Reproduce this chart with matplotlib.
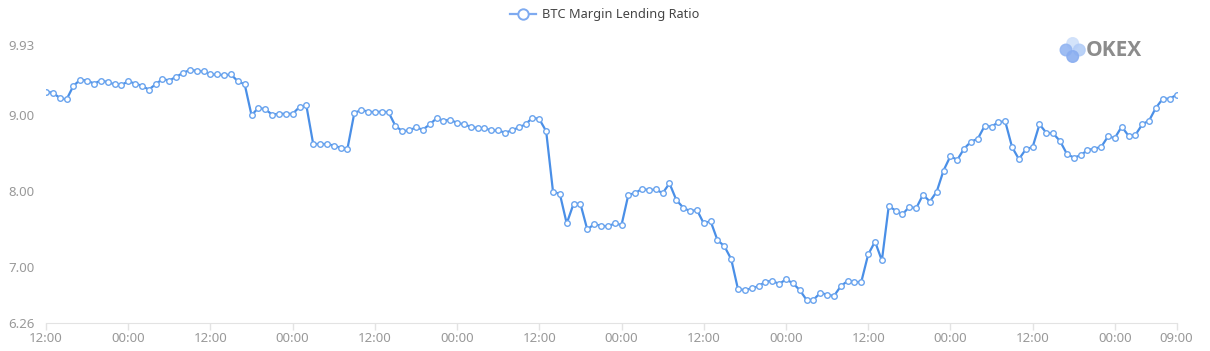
import numpy as np
import matplotlib
matplotlib.use("Agg")
import matplotlib.pyplot as plt
from matplotlib.patches import Circle
from matplotlib.lines import Line2D

# hourly values, from 12:00 on day one to 09:00 on the last day
ratio = [
    9.31, 9.30, 9.23, 9.21, 9.39, 9.47, 9.46, 9.42, 9.46, 9.44,
    9.41, 9.40, 9.45, 9.42, 9.39, 9.34, 9.41, 9.48, 9.46, 9.51,
    9.56, 9.60, 9.59, 9.58, 9.54, 9.54, 9.53, 9.54, 9.45, 9.41,
    9.00, 9.10, 9.08, 9.01, 9.02, 9.02, 9.02, 9.11, 9.13, 8.62,
    8.62, 8.62, 8.60, 8.57, 8.56, 9.03, 9.07, 9.05, 9.04, 9.05,
    9.04, 8.86, 8.79, 8.80, 8.84, 8.81, 8.88, 8.96, 8.93, 8.94,
    8.90, 8.88, 8.85, 8.83, 8.83, 8.80, 8.80, 8.77, 8.80, 8.84,
    8.88, 8.97, 8.95, 8.79, 7.99, 7.96, 7.57, 7.83, 7.83, 7.49,
    7.56, 7.54, 7.53, 7.57, 7.55, 7.95, 7.97, 8.03, 8.01, 8.02,
    7.97, 8.10, 7.88, 7.78, 7.73, 7.75, 7.57, 7.60, 7.35, 7.27,
    7.10, 6.70, 6.69, 6.71, 6.74, 6.80, 6.81, 6.77, 6.83, 6.78,
    6.69, 6.56, 6.56, 6.65, 6.63, 6.61, 6.74, 6.81, 6.79, 6.80,
    7.16, 7.33, 7.08, 7.80, 7.74, 7.69, 7.79, 7.77, 7.95, 7.86,
    7.99, 8.27, 8.46, 8.41, 8.56, 8.65, 8.69, 8.86, 8.85, 8.91,
    8.92, 8.58, 8.42, 8.55, 8.58, 8.88, 8.77, 8.76, 8.66, 8.49,
    8.44, 8.47, 8.54, 8.56, 8.58, 8.72, 8.70, 8.85, 8.73, 8.74,
    8.88, 8.93, 9.10, 9.22, 9.22, 9.27,
]
hours = list(range(len(ratio)))

tick_hours = [0, 12, 24, 36, 48, 60, 72, 84, 96, 108, 120, 132, 144, 156, 165]
tick_labels = ["12:00", "00:00", "12:00", "00:00", "12:00", "00:00", "12:00",
               "00:00", "12:00", "00:00", "12:00", "00:00", "12:00", "00:00", "09:00"]
y_ticks = [6.26, 7.00, 8.00, 9.00, 9.93]

plt.rcParams['font.family'] = ['Noto Sans', 'DejaVu Sans']

fig = plt.figure(figsize=(12.1, 3.51), dpi=100)
ax = fig.add_axes([46 / 1210, 1 - 322.5 / 351, 1130.5 / 1210, 277.5 / 351])

ax.plot(hours, ratio, color='#4a8fe7', linewidth=1.6, marker='o', markersize=4.0,
        markerfacecolor='white', markeredgecolor='#6aa4ee', markeredgewidth=1.0,
        zorder=3)

ax.set_xlim(0, hours[-1])
ax.set_ylim(6.26, 9.93)
ax.set_xticks(tick_hours)
ax.set_xticklabels(tick_labels)
ax.set_yticks(y_ticks)
ax.set_yticklabels([f"{v:.2f}" for v in y_ticks])

for side in ['top', 'right', 'left']:
    ax.spines[side].set_visible(False)
ax.spines['bottom'].set_color('#e3e3e3')
ax.tick_params(axis='x', colors='#e3e3e3', length=5, width=1, labelcolor='#999999',
               labelsize=9.5, pad=2)
ax.tick_params(axis='y', length=0, labelcolor='#999999', labelsize=9.5, pad=8)

handle = Line2D([], [], color='#7eaaf0', linewidth=1.6, marker='o', markersize=7.5,
                markerfacecolor='white', markeredgecolor='#7eaaf0', markeredgewidth=1.4)
fig.legend([handle], ['BTC Margin Lending Ratio'], loc='upper center',
           bbox_to_anchor=(0.5, 1.01), frameon=False, fontsize=9.2,
           labelcolor='#444444', handlelength=2.0, handletextpad=0.5, numpoints=1)

# OKEX watermark (positions in inches from bottom-left)
for (cx, cy, c) in [(1072.7, 43.5, '#cfe0fa'), (1066, 50, '#94b6f2'),
                    (1079.3, 50, '#b3cdf7'), (1072.7, 56.5, '#8aaef0')]:
    fig.patches.append(Circle((cx / 100, (351 - cy) / 100), 5.8 / 100,
                              transform=fig.dpi_scale_trans, color=c, alpha=0.9))
fig.text(1086 / 1210, 1 - 50.5 / 351, "OKEX", fontsize=15, fontweight='bold',
         family=['Open Sans', 'DejaVu Sans'], color='#8c8c8c', va='center', ha='left')

fig.savefig('out.png', dpi=100)
